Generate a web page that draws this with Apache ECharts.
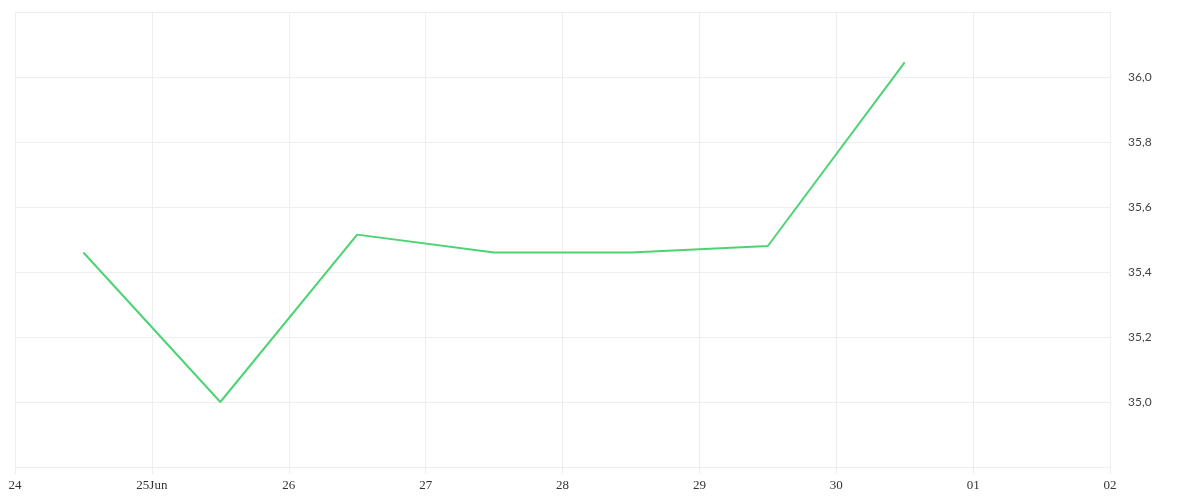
<!DOCTYPE html><html><head><meta charset="utf-8"><script src="https://cdn.jsdelivr.net/npm/echarts@6/dist/echarts.min.js"></script>
<style>html,body{margin:0;padding:0;background:#fff}#c{width:1200px;height:500px}</style></head><body><div id="c"></div><script>
const dates=['2024-06-24T12:00:00','2024-06-25T12:00:00','2024-06-26T12:00:00','2024-06-27T12:00:00','2024-06-28T12:00:00','2024-06-29T12:00:00','2024-06-30T12:00:00'];
const values=[35.46,35.0,35.515,35.46,35.46,35.48,36.045];
const monthNames=['Jan','Feb','Mar','Apr','May','Jun','Jul','Aug','Sep','Oct','Nov','Dec'];
const chart=echarts.init(document.getElementById('c'));
chart.setOption({animation:false,
grid:{left:15,right:90,top:12,bottom:33},
xAxis:{type:'time',min:new Date('2024-06-24T00:00:00').getTime(),max:new Date('2024-07-02T00:00:00').getTime(),interval:86400000,
 axisLine:{show:false},axisTick:{show:true,length:7,lineStyle:{color:'#eee'}},
 splitLine:{show:true,lineStyle:{color:'#eee'}},
 axisLabel:{showMinLabel:false,showMaxLabel:false,margin:12,color:'#333',fontFamily:'Liberation Serif',fontSize:13,
  formatter:v=>{const d=new Date(v);const dd=String(d.getDate()).padStart(2,'0');return d.getDate()===25?dd+monthNames[d.getMonth()]:dd;}}},
yAxis:{type:'value',position:'right',min:34.8,max:36.2,interval:0.2,
 axisLine:{show:false},axisTick:{show:false},splitLine:{lineStyle:{color:'#eee'}},
 axisLabel:{showMinLabel:false,showMaxLabel:false,margin:18,color:'#444',fontFamily:'Lato',fontSize:12,formatter:v=>v.toFixed(1).replace('.',',')}},
series:[{type:'line',data:dates.map((d,i)=>[new Date(d).getTime(),values[i]]),showSymbol:false,lineStyle:{color:'#4cd373',width:2},itemStyle:{color:'#4cd373'}}]});
</script></body></html>
